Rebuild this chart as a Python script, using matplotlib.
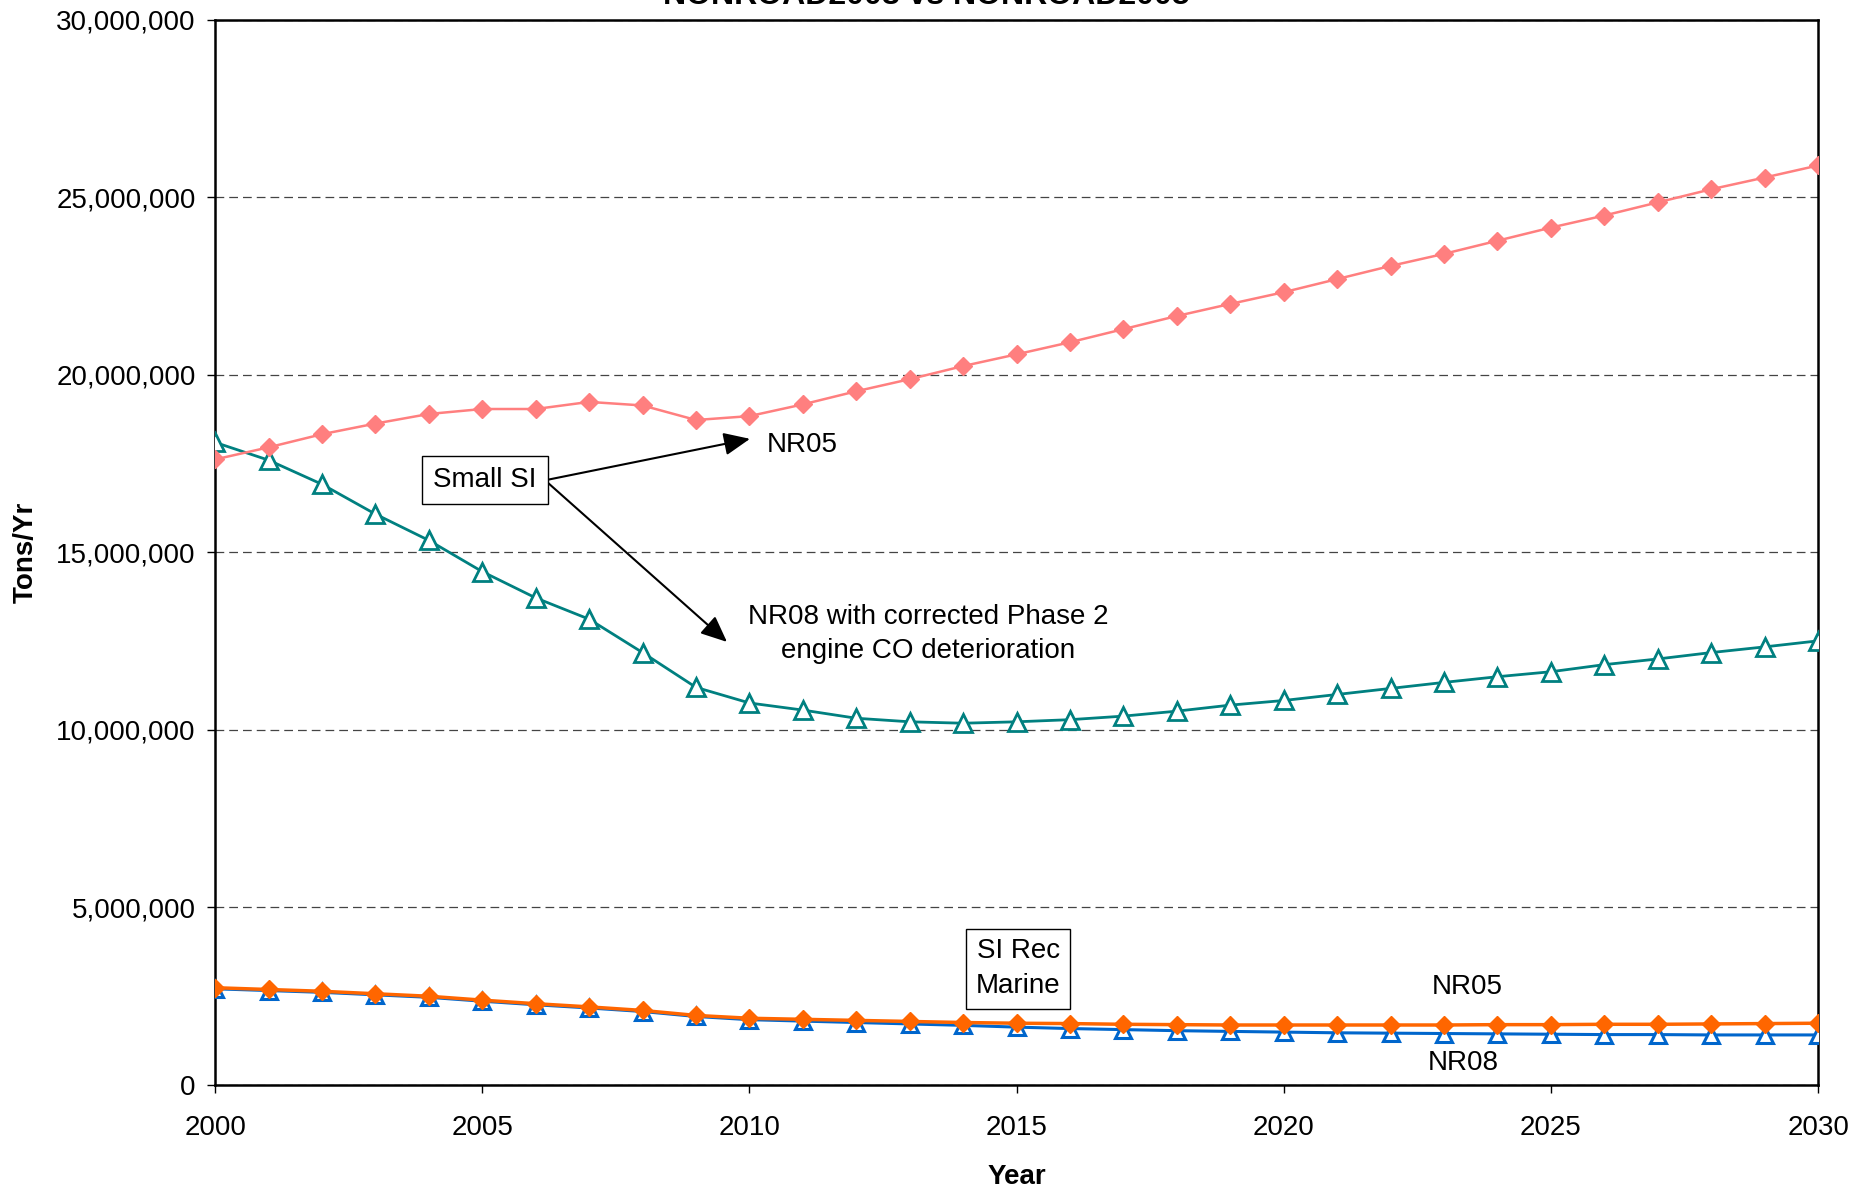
import matplotlib
matplotlib.use("Agg")
import matplotlib.pyplot as plt
from matplotlib.ticker import FuncFormatter, MultipleLocator

plt.rcParams['font.family'] = ['Liberation Sans', 'DejaVu Sans']

years = list(range(2000, 2031))

small_si_nr05 = [17.62, 17.96, 18.33, 18.63, 18.90, 19.04, 19.04, 19.24, 19.14, 18.73,
                 18.84, 19.17, 19.54, 19.88, 20.25, 20.58, 20.92, 21.29, 21.66, 22.00,
                 22.33, 22.70, 23.07, 23.41, 23.78, 24.15, 24.49, 24.86, 25.23, 25.56,
                 25.90]
small_si_nr08 = [18.10, 17.60, 16.92, 16.08, 15.34, 14.46, 13.72, 13.12, 12.18, 11.20,
                 10.76, 10.56, 10.33, 10.23, 10.19, 10.23, 10.29, 10.39, 10.53, 10.70,
                 10.83, 11.00, 11.17, 11.34, 11.50, 11.64, 11.84, 12.00, 12.18, 12.34,
                 12.51]
marine_nr05 = [2.74, 2.69, 2.64, 2.57, 2.50, 2.39, 2.29, 2.20, 2.10, 1.96,
               1.88, 1.85, 1.82, 1.79, 1.76, 1.74, 1.73, 1.71, 1.70, 1.69,
               1.69, 1.69, 1.69, 1.69, 1.70, 1.70, 1.71, 1.71, 1.72, 1.73,
               1.74]
marine_nr08 = [2.71, 2.66, 2.61, 2.54, 2.47, 2.36, 2.26, 2.17, 2.07, 1.93,
               1.84, 1.80, 1.76, 1.72, 1.68, 1.63, 1.59, 1.56, 1.53, 1.51,
               1.49, 1.47, 1.46, 1.45, 1.44, 1.43, 1.42, 1.42, 1.41, 1.41,
               1.41]

scale = 1e6
fig = plt.figure(figsize=(18.72, 11.91), dpi=100)
ax = fig.add_axes([0.1149, 0.089, 0.8563, 0.8943])

ax.plot(years, [v * scale for v in marine_nr08], color='#0066CC', lw=2.2,
        marker='^', ms=12, mfc='white', mec='#0066CC', mew=2.2, zorder=3)
ax.plot(years, [v * scale for v in marine_nr05], color='#FF6600', lw=2.5,
        marker='D', ms=9.5, mfc='#FF6600', mec='#FF6600', zorder=4)
ax.plot(years, [v * scale for v in small_si_nr08], color='#008080', lw=2.0,
        marker='^', ms=13, mfc='white', mec='#008080', mew=2, zorder=3)
ax.plot(years, [v * scale for v in small_si_nr05], color='#FF7F7F', lw=1.8,
        marker='D', ms=9, mfc='#FF7F7F', mec='#FF7F7F', zorder=4)

ax.set_xlim(2000, 2030)
ax.set_ylim(0, 30e6)
ax.xaxis.set_major_locator(MultipleLocator(5))
ax.yaxis.set_major_locator(MultipleLocator(5e6))
ax.yaxis.set_major_formatter(FuncFormatter(lambda v, p: f"{v:,.0f}"))
ax.tick_params(axis='y', direction='out', length=6, width=1, labelsize=20, pad=8)
ax.tick_params(axis='x', direction='out', length=6, width=1, labelsize=20, pad=15.5)
ax.yaxis.grid(True, linestyle=(0, (7, 4)), color='#444444', lw=0.9)
ax.set_axisbelow(True)
for s in ax.spines.values():
    s.set_linewidth(1.8)
    s.set_color('black')

ax.set_ylabel('Tons/Yr', fontsize=20, fontweight='bold')
ax.yaxis.set_label_coords(-0.110, 0.5)
ax.set_xlabel('Year', fontsize=20, fontweight='bold')
ax.xaxis.set_label_coords(0.5, -0.074)

fig.text(0.4947, 1 - 4 / 1191, 'NONROAD2008 vs NONROAD2005', ha='center',
         va='baseline', fontsize=23, fontweight='bold')

box = dict(boxstyle='square,pad=0.4', fc='white', ec='black', lw=1)
ax.text(2005.05, 17.04e6, 'Small SI', fontsize=20, ha='center', va='center',
        bbox=box, zorder=6)
arrow = dict(arrowstyle='-|>,head_length=0.8,head_width=0.35', color='black',
             lw=1.5, mutation_scale=20, shrinkA=0, shrinkB=0)
ax.annotate('', xy=(2010.01, 18.2e6), xytext=(2006.2, 17.04e6), arrowprops=arrow,
            zorder=5)
ax.annotate('', xy=(2009.58, 12.48e6), xytext=(2006.2, 17.0e6), arrowprops=arrow,
            zorder=5)
ax.text(2010.99, 18.03e6, 'NR05', fontsize=20, ha='center', va='center')
ax.text(2013.34, 12.70e6, 'NR08 with corrected Phase 2\nengine CO deterioration',
        fontsize=20, ha='center', va='center', linespacing=1.4)
ax.text(2015.03, 3.27e6, 'SI Rec\nMarine', fontsize=20, ha='center', va='center',
        linespacing=1.45, bbox=dict(boxstyle='square,pad=0.35', fc='white',
                                    ec='black', lw=1), zorder=6)
ax.text(2023.43, 2.76e6, 'NR05', fontsize=20, ha='center', va='center')
ax.text(2023.36, 0.62e6, 'NR08', fontsize=20, ha='center', va='center')

fig.savefig('out.png', dpi=100)
